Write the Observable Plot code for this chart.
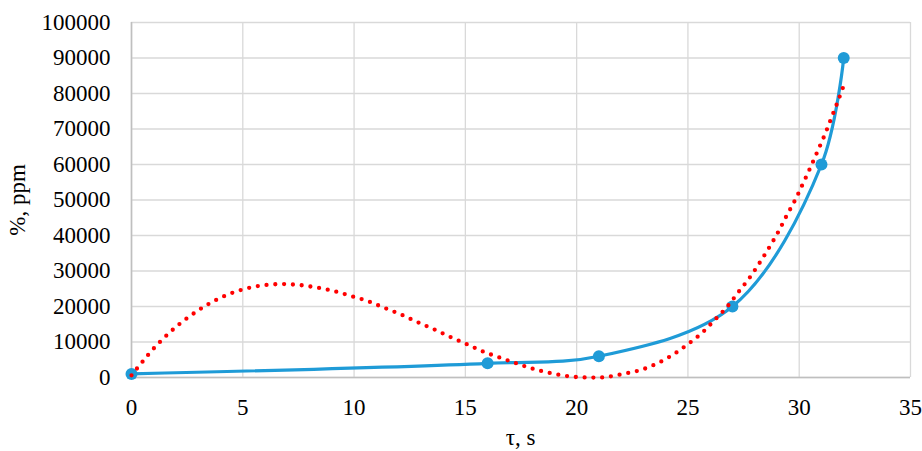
<!DOCTYPE html>
<html>
<head>
<meta charset="utf-8">
<script src="https://cdn.jsdelivr.net/npm/d3@7"></script>
<script src="https://cdn.jsdelivr.net/npm/@observablehq/plot@0.6"></script>
<style>
  html, body { margin: 0; padding: 0; background: #fff; }
  #chart svg { display: block; }
</style>
</head>
<body>
<div id="chart"></div>
<script>
// Measured series (blue line with markers)
const measuredX = [0, 16, 21, 27, 31, 32];
const measuredY = [1000, 4000, 6000, 20000, 60000, 90000];

// Trend line (red dotted)
const trendX = [0, 0.5, 1, 1.6, 2.2, 2.9, 3.55, 4.27, 5.05, 5.84, 6.65, 7.46, 8.27, 9.06, 9.84, 10.62, 11.37, 12.12, 12.85, 13.58, 14.33, 15.06, 15.8, 16.55, 17.33, 18.07, 18.85, 19.69, 20.5, 21.28, 22.09, 22.87, 23.63, 24.35, 25.0, 25.62, 26.2, 26.76, 27.25, 27.76, 28.21, 28.63, 29.05, 29.42, 29.81, 30.16, 30.5, 30.83, 31.15, 31.45, 31.75, 32.03];
const trendY = [600, 4500, 8200, 12000, 15300, 18500, 21000, 23200, 24900, 25900, 26300, 26100, 25400, 24400, 23000, 21500, 19600, 17700, 15600, 13600, 11400, 9400, 7300, 5600, 3900, 2400, 1200, 300, 0, 100, 1000, 2100, 4000, 6500, 9400, 12500, 16200, 19900, 23900, 28000, 32200, 36400, 40900, 45400, 49900, 54500, 59100, 63800, 68400, 73200, 78000, 82800];

// Axis ticks and labels
const xTicks = [0, 5, 10, 15, 20, 25, 30, 35];
const yTicks = [0, 10000, 20000, 30000, 40000, 50000, 60000, 70000, 80000, 90000, 100000];
const xTitle = "τ, s";
const yTitle = "%, ppm";

const measured = measuredX.map((x, i) => ({x, y: measuredY[i]}));
const trend = trendX.map((x, i) => ({x, y: trendY[i]}));

const blue = "#1f9bd7";
const red = "#ff0000";
const font = "'Liberation Serif', 'Times New Roman', serif";

const plot = Plot.plot({
  width: 922,
  height: 451,
  marginLeft: 131,
  marginRight: 12,
  marginTop: 22,
  marginBottom: 74,
  style: {fontFamily: font, fontSize: "23px", background: "#fff", color: "#000", overflow: "visible"},
  x: {domain: [0, 35], ticks: xTicks, tickSize: 0, tickPadding: 21, label: null, tickFormat: d => String(d)},
  y: {domain: [0, 100000], ticks: yTicks, tickSize: 0, tickPadding: 21, label: null, tickFormat: d => String(d)},
  marks: [
    Plot.gridX(xTicks, {stroke: "#d9d9d9", strokeOpacity: 1, strokeWidth: 1.3}),
    Plot.gridY(yTicks, {stroke: "#d9d9d9", strokeOpacity: 1, strokeWidth: 1.3}),
    Plot.ruleX([0], {stroke: "#bfbfbf", strokeWidth: 1.6}),
    Plot.ruleY([0], {stroke: "#bfbfbf", strokeWidth: 1.6}),
    Plot.line(measured, {x: "x", y: "y", stroke: blue, strokeWidth: 3.2, curve: "catmull-rom"}),
    Plot.dot(measured, {x: "x", y: "y", r: 6, fill: blue, stroke: "none"}),
    Plot.line(trend, {x: "x", y: "y", stroke: red, strokeWidth: 4.3, strokeDasharray: "0 8.8", strokeLinecap: "round", curve: "catmull-rom"})
  ]
});

const svg = d3.select(plot);
svg.append("text")
  .attr("x", 520.5).attr("y", 445)
  .attr("text-anchor", "middle")
  .attr("fill", "#000")
  .style("font-family", font)
  .style("font-size", "23px")
  .text(xTitle);
svg.append("text")
  .attr("transform", "translate(25,200) rotate(-90)")
  .attr("text-anchor", "middle")
  .attr("fill", "#000")
  .style("font-family", font)
  .style("font-size", "23px")
  .text(yTitle);

document.getElementById("chart").appendChild(plot);
</script>
</body>
</html>
